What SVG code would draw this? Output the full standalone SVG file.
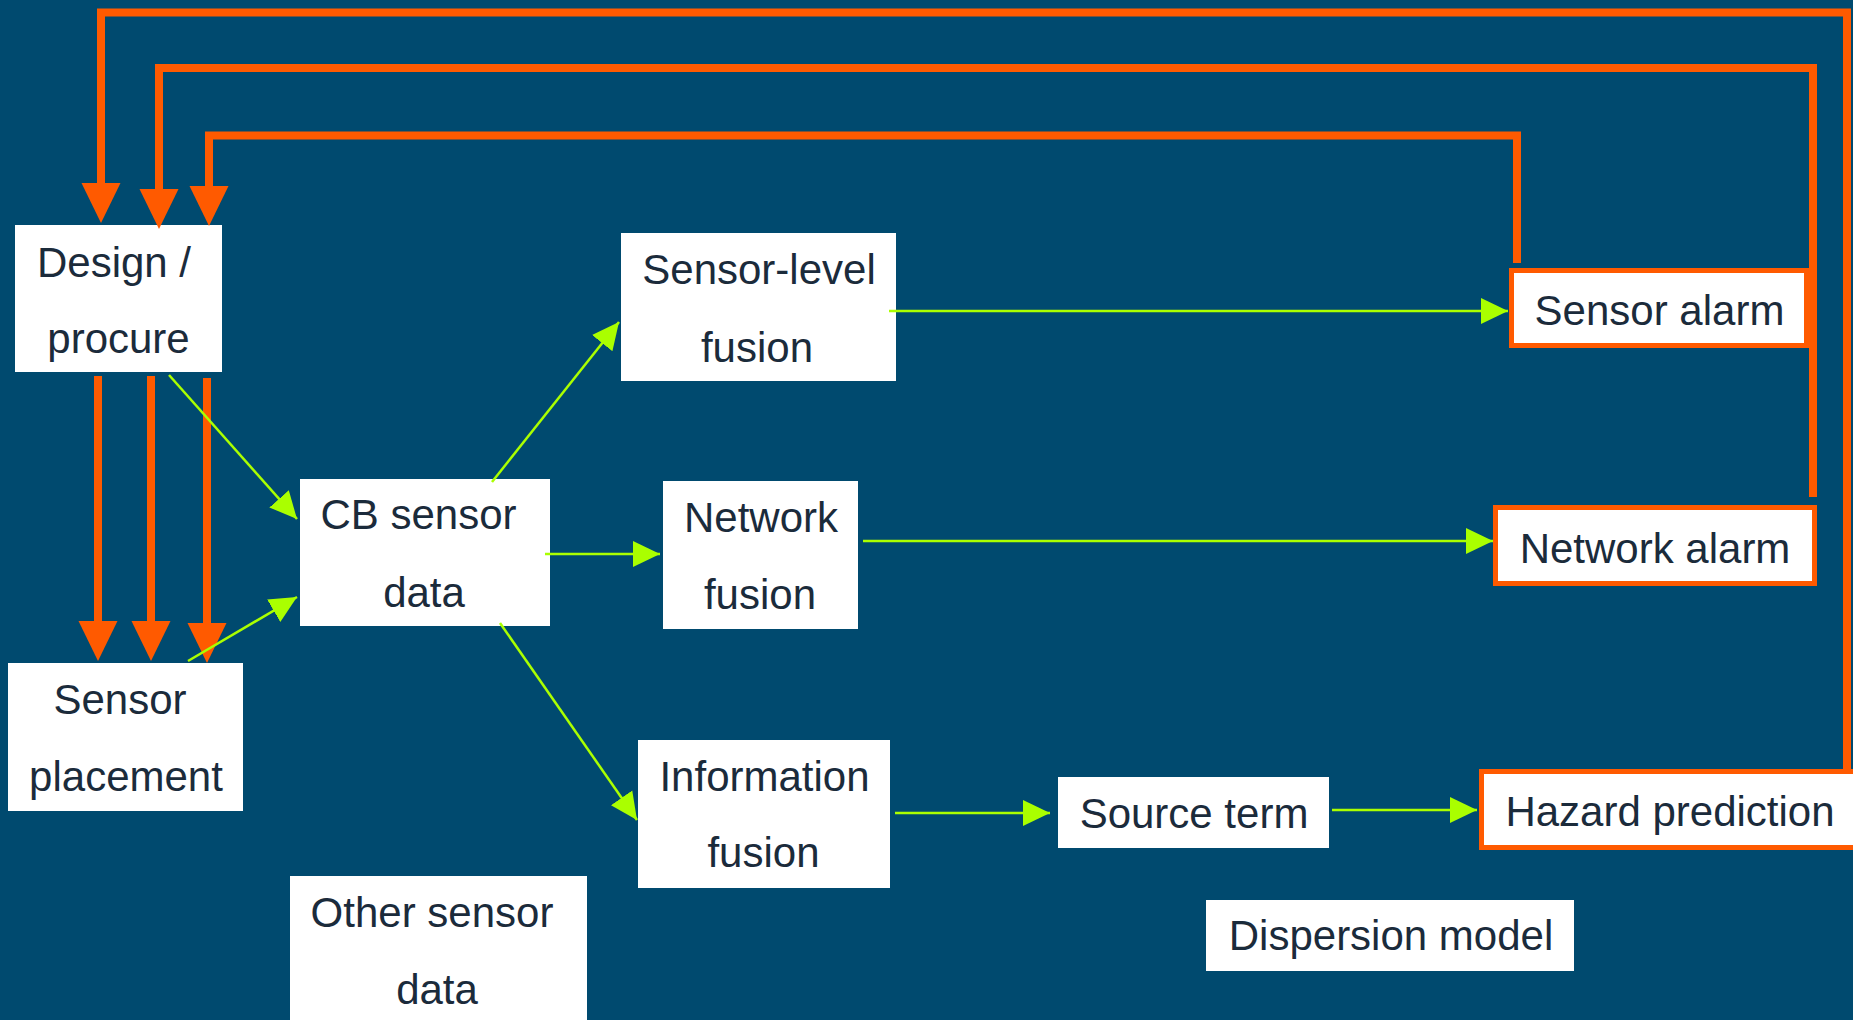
<svg xmlns="http://www.w3.org/2000/svg" width="1853" height="1020" viewBox="0 0 1853 1020">
<defs>
<style>
.box{fill:#ffffff}
.alarm{fill:#ffffff;stroke:#ff5a00;stroke-width:5}
.t{font-family:"Liberation Sans",Arial,sans-serif;font-size:42px;fill:#1b2b3b;text-anchor:middle}
.fb{fill:none;stroke:#ff5a00;stroke-width:8}
.g{fill:none;stroke:#aaff00;stroke-width:2.5}
</style>
<marker id="oh" markerUnits="userSpaceOnUse" markerWidth="40" markerHeight="40" refX="0" refY="19.5" orient="auto" viewBox="0 0 40 39">
<path d="M0,0 L40,19.5 L0,39 Z" fill="#ff5a00"/>
</marker>
<marker id="gh" markerUnits="userSpaceOnUse" markerWidth="27" markerHeight="27" refX="27" refY="13" orient="auto" viewBox="0 0 27 26">
<path d="M0,0 L27,13 L0,26 Z" fill="#aaff00"/>
</marker>
</defs>
<rect x="0" y="0" width="1853" height="1020" fill="#004a6f"/>

<g id="design">
<rect class="box" x="15" y="225" width="207" height="147"/>
<text class="t" x="114" y="277">Design /</text>
<text class="t" x="118.5" y="353">procure</text>
</g>
<g id="placement">
<rect class="box" x="8" y="663" width="235" height="148"/>
<text class="t" x="120" y="714">Sensor</text>
<text class="t" x="126" y="791">placement</text>
</g>
<g id="cb">
<rect class="box" x="300" y="479" width="250" height="147"/>
<text class="t" x="418.5" y="529">CB sensor</text>
<text class="t" x="424" y="607">data</text>
</g>
<g id="other">
<rect class="box" x="290" y="876" width="297" height="150"/>
<text class="t" x="432" y="927">Other sensor</text>
<text class="t" x="437" y="1004">data</text>
</g>
<g id="slfusion">
<rect class="box" x="621" y="233" width="275" height="148"/>
<text class="t" x="759" y="284">Sensor-level</text>
<text class="t" x="757" y="362">fusion</text>
</g>
<g id="nfusion">
<rect class="box" x="663" y="481" width="195" height="148"/>
<text class="t" x="761" y="532">Network</text>
<text class="t" x="760" y="609">fusion</text>
</g>
<g id="ifusion">
<rect class="box" x="638" y="740" width="252" height="148"/>
<text class="t" x="764.5" y="791">Information</text>
<text class="t" x="763.5" y="867">fusion</text>
</g>
<g id="source">
<rect class="box" x="1058" y="777" width="271" height="71"/>
<text class="t" x="1194" y="828">Source term</text>
</g>
<g id="dispersion">
<rect class="box" x="1206" y="900" width="368" height="71"/>
<text class="t" x="1391" y="950">Dispersion model</text>
</g>
<g id="salarm">
<rect class="alarm" x="1511.5" y="270.5" width="295" height="75"/>
<text class="t" x="1659.5" y="325">Sensor alarm</text>
</g>
<g id="nalarm">
<rect class="alarm" x="1495.5" y="507.5" width="319" height="76"/>
<text class="t" x="1655" y="563">Network alarm</text>
</g>
<g id="hazard">
<rect class="alarm" x="1481.5" y="771.5" width="420" height="76"/>
<text class="t" x="1670" y="826">Hazard prediction</text>
</g>

<g id="connectors">
<path class="fb" d="M1847,769 V12.5 H101 V183" marker-end="url(#oh)"/>
<path class="fb" d="M1813,497 V68 H159 V189" marker-end="url(#oh)"/>
<path class="fb" d="M1517,263 V135.5 H209 V186" marker-end="url(#oh)"/>
<path class="fb" d="M98,376 V621" marker-end="url(#oh)"/>
<path class="fb" d="M151,376 V621" marker-end="url(#oh)"/>
<path class="fb" d="M207,378 V623" marker-end="url(#oh)"/>
<path class="g" d="M169,375 L297,519" marker-end="url(#gh)"/>
<path class="g" d="M188,661 L297,597" marker-end="url(#gh)"/>
<path class="g" d="M492,482 L619,322" marker-end="url(#gh)"/>
<path class="g" d="M545,554 L660,554" marker-end="url(#gh)"/>
<path class="g" d="M500,623 L637,820" marker-end="url(#gh)"/>
<path class="g" d="M889,311 L1508,311" marker-end="url(#gh)"/>
<path class="g" d="M863,541 L1493,541" marker-end="url(#gh)"/>
<path class="g" d="M895,813 L1050,813" marker-end="url(#gh)"/>
<path class="g" d="M1332,810 L1477,810" marker-end="url(#gh)"/>
</g>
</svg>
